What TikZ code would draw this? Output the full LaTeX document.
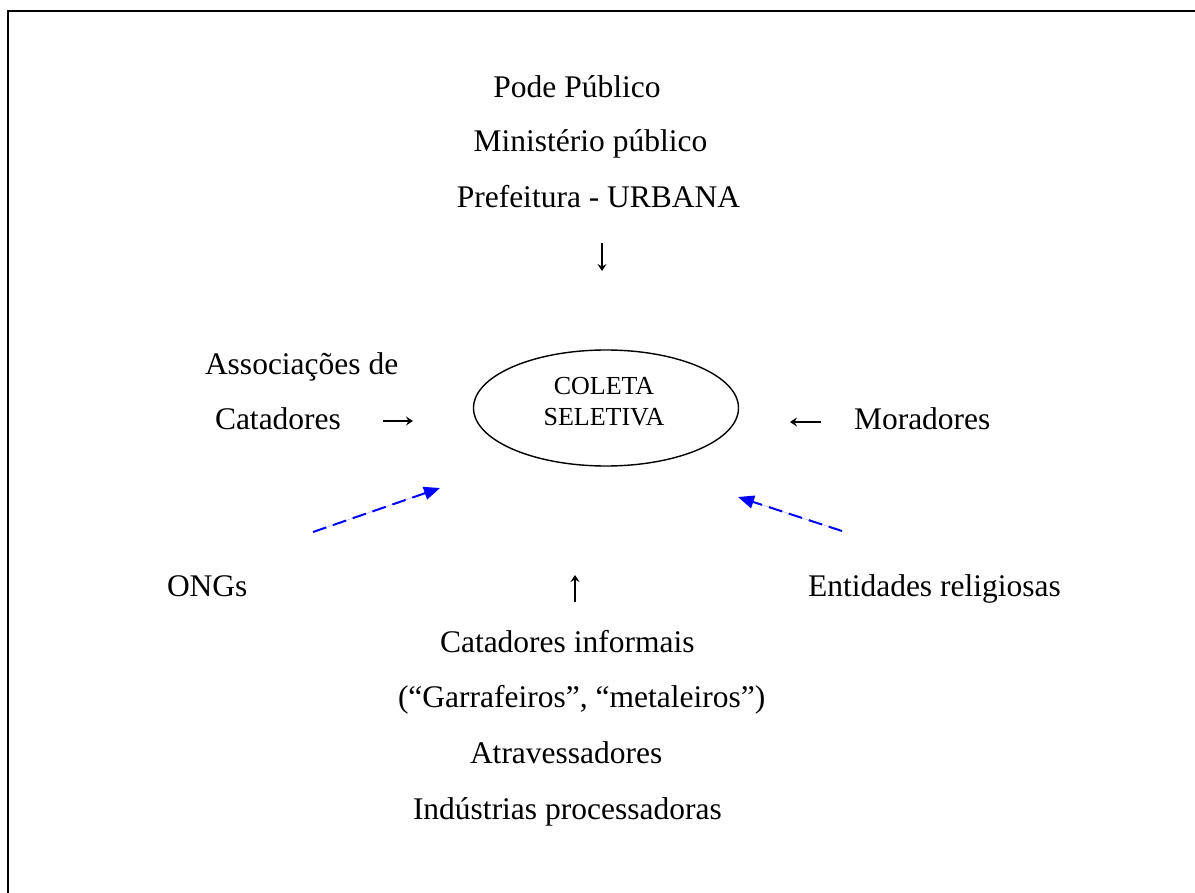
\documentclass[tikz,border=0pt]{standalone}
\usepackage{fontspec}
\setmainfont{Liberation Serif}
\usetikzlibrary{arrows.meta,shapes.geometric}

\tikzset{
  lbl/.style={inner sep=0pt, outer sep=0pt, anchor=base west,
    font=\fontsize{31.5}{36}\selectfont},
  lblc/.style={lbl, anchor=base},
  glyarrow/.style={line width=1.3pt,
    -{Stealth[length=7pt,width=9pt,inset=2.5pt]}},
  influence/.style={draw=blue, line width=2pt, dash pattern=on 14pt off 7pt,
    -{Triangle[length=16pt,width=13pt]}, fill=blue},
  core/.style={ellipse, draw, line width=1.4pt, inner sep=0pt,
    minimum width=265pt, minimum height=116pt}
}

\begin{document}
\begin{tikzpicture}[x=1pt, y=-1pt]
\useasboundingbox (0,0) rectangle (1195,893);

% outer frame (only the top and left edges fall inside the page)
\draw[line width=2.2pt] (8,900) -- (8,11) -- (1200,11);

% public authorities at the top
\node[lblc] (poder)  at (577,98)   {Pode Público};
\node[lblc] (minist) at (590.5,152) {Ministério público};
\node[lblc] (pref)   at (598.5,208) {Prefeitura - URBANA};

% central ellipse
\node[core] (coleta) at (606,408) {};
\node[inner sep=0pt, align=center, font=\fontsize{26}{31}\selectfont]
  (coletatxt) at (604,402) {COLETA\\SELETIVA};

% side actors
\node[lbl] (assoc) at (205,375) {Associações de};
\node[lbl] (catad) at (215,430) {Catadores};
\node[lbl] (morad) at (854,429) {Moradores};
\node[lbl] (ongs)  at (167,596) {ONGs};
\node[lbl] (relig) at (808,596) {Entidades religiosas};

% actors below
\node[lbl] (informais) at (440,652) {Catadores informais};
\node[lbl] (garraf)    at (398,707) {(“Garrafeiros”, “metaleiros”)};
\node[lbl] (atrav)     at (470,763) {Atravessadores};
\node[lbl] (indust)    at (413,819) {Indústrias processadoras};

% short black arrows
\coordinate (downA) at (602,243);  \coordinate (downB) at (602,271);
\coordinate (rightA) at (383,421); \coordinate (rightB) at (413,421);
\coordinate (leftA) at (821,422);  \coordinate (leftB) at (790,422);
\coordinate (upA) at (575,602);    \coordinate (upB) at (575,575);
\draw[glyarrow] (downA) -- (downB);
\draw[glyarrow] (rightA) -- (rightB);
\draw[glyarrow] (leftA) -- (leftB);
\draw[glyarrow] (upA) -- (upB);

% dashed blue arrows
\coordinate (ongsA) at (313,532);  \coordinate (ongsB) at (440,488);
\coordinate (religA) at (842,531); \coordinate (religB) at (738,497);
\draw[influence] (ongsA) -- (ongsB);
\draw[influence] (religA) -- (religB);
\end{tikzpicture}
\end{document}
